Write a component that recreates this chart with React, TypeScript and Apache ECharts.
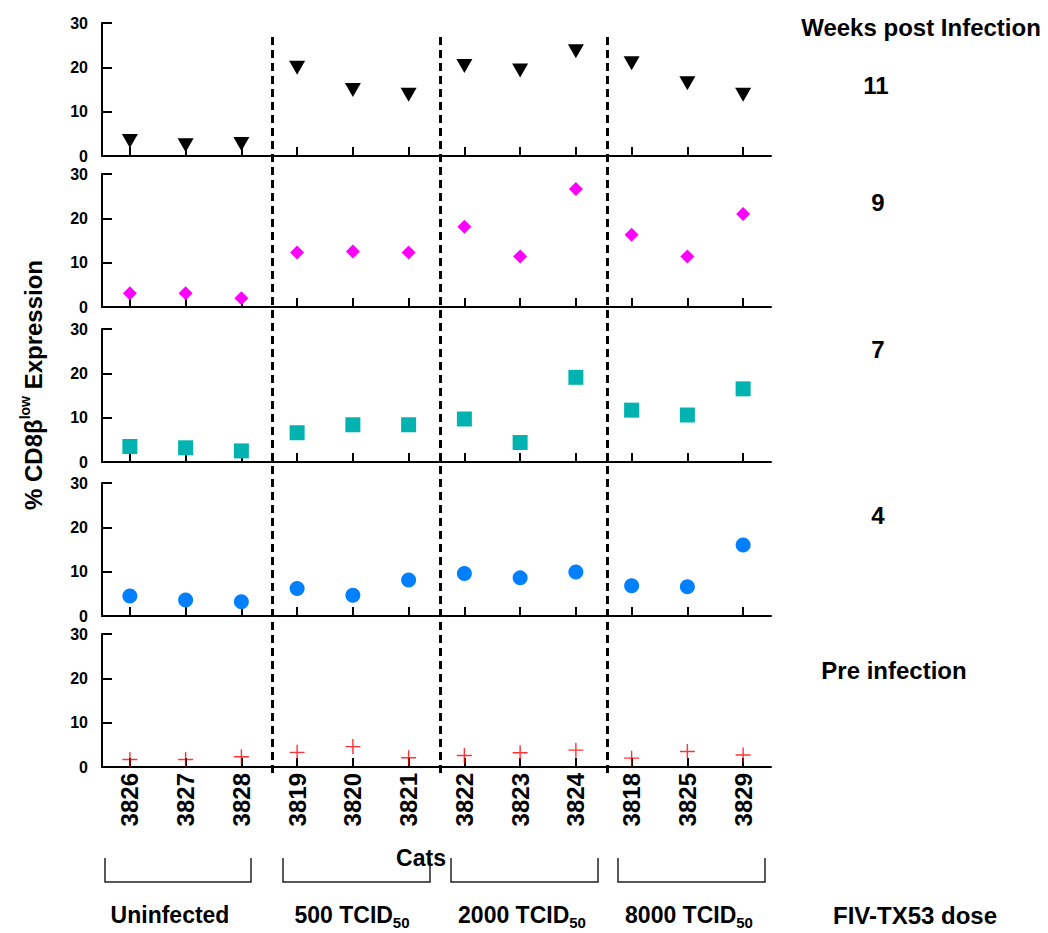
import React, { useEffect, useRef } from "react";
import * as echarts from "echarts";

// Cat IDs in plotting order, grouped by infection dose
const cats = ["3826", "3827", "3828", "3819", "3820", "3821", "3822", "3823", "3824", "3818", "3825", "3829"];

// % CD8β-low expression per cat at each time point
const week11 = [3.4, 2.4, 2.7, 19.9, 14.9, 13.8, 20.3, 19.3, 23.6, 20.9, 16.4, 13.8];
const week9 = [3.1, 3.1, 2.0, 12.3, 12.5, 12.3, 18.1, 11.4, 26.6, 16.3, 11.4, 21.0];
const week7 = [3.5, 3.2, 2.5, 6.6, 8.4, 8.4, 9.7, 4.4, 19.1, 11.7, 10.6, 16.5];
const week4 = [4.5, 3.6, 3.2, 6.2, 4.7, 8.1, 9.6, 8.6, 9.9, 6.8, 6.6, 16.0];
const preInfection = [1.7, 1.7, 2.3, 3.3, 4.6, 2.1, 2.6, 3.2, 3.8, 2.0, 3.5, 2.7];

const panelData = [week11, week9, week7, week4, preInfection];
const panelLabels = ["11", "9", "7", "4", "Pre infection"];

// Dose group boundaries along the cat axis (in category units)
const groupBoundaries = [3.05, 6.07, 9.07];
const doseGroups = ["Uninfected", "500", "2000", "8000"];

const FONT = "'Liberation Sans', Arial, Helvetica, sans-serif";

const panelTops = [23, 174, 329, 483, 634];
const PANEL_H = 133;
const GRID_LEFT = 102;
const GRID_W = 669;

const plus = "path://M0,5 L10,5 M5,0 L5,10";

const symbols = [
  { symbol: "triangle", symbolRotate: 180, symbolSize: [16, 14], color: "#000000" },
  { symbol: "diamond", symbolRotate: 0, symbolSize: [14, 14], color: "#ff00ff" },
  { symbol: "rect", symbolRotate: 0, symbolSize: [15, 15], color: "#00b2b0" },
  { symbol: "circle", symbolRotate: 0, symbolSize: [15, 15], color: "#0080ff" },
  { symbol: plus, symbolRotate: 0, symbolSize: [15, 15], color: "#ff0000" },
];

export default function App() {
  const ref = useRef<HTMLDivElement>(null);

  useEffect(() => {
    document.body.style.margin = "0";
    document.body.style.overflow = "hidden";
    const chart = echarts.init(ref.current!, null, { renderer: "svg" });

    const grids: any[] = panelTops.map((top) => ({
      left: GRID_LEFT,
      top,
      width: GRID_W,
      height: PANEL_H,
      containLabel: false,
    }));
    // overlay grid for the dashed group separators spanning all panels
    grids.push({ left: GRID_LEFT, top: 32, width: GRID_W, height: 741 });

    const axisLine = { show: true, lineStyle: { color: "#000", width: 2 } };

    const xAxes: any[] = panelTops.map((_, i) => ({
      type: "category",
      gridIndex: i,
      data: cats,
      boundaryGap: true,
      axisLine,
      axisTick: { show: true, inside: true, alignWithLabel: true, length: 9, lineStyle: { color: "#000", width: 2 } },
      axisLabel: {
        show: i === 4,
        rotate: 90,
        fontWeight: "bold",
        fontSize: 24,
        color: "#000",
        fontFamily: FONT,
        margin: 6,
      },
      splitLine: { show: false },
    }));
    xAxes.push({ type: "value", gridIndex: 5, min: 0, max: 12, show: false });

    const yAxes: any[] = panelTops.map((_, i) => ({
      type: "value",
      gridIndex: i,
      min: 0,
      max: 30,
      interval: 10,
      axisLine,
      axisTick: { show: true, inside: true, length: 10, lineStyle: { color: "#000", width: 2 } },
      axisLabel: { fontWeight: "bold", fontSize: 16, color: "#000", fontFamily: FONT, margin: 14 },
      splitLine: { show: false },
    }));
    yAxes.push({ type: "value", gridIndex: 5, min: 0, max: 1, show: false });

    const series: any[] = panelData.map((data, i) => {
      const s = symbols[i];
      const isPlus = i === 4;
      return {
        type: "scatter",
        xAxisIndex: i,
        yAxisIndex: i,
        data,
        symbol: s.symbol,
        symbolRotate: s.symbolRotate,
        symbolSize: s.symbolSize,
        itemStyle: isPlus
          ? { color: "rgba(0,0,0,0)", borderColor: s.color, borderWidth: 1.4 }
          : { color: s.color, opacity: 1 },
        emphasis: { disabled: true },
        z: 3,
      };
    });

    series.push({
      type: "scatter",
      xAxisIndex: 5,
      yAxisIndex: 5,
      data: [],
      markLine: {
        silent: true,
        symbol: "none",
        label: { show: false },
        lineStyle: { color: "#000", width: 3, type: [8, 5] },
        data: groupBoundaries.map((x) => ({ xAxis: x })),
      },
      z: 4,
    });

    const boldText = (text: string, x: number, y: number, fontSize = 22) => ({
      type: "text",
      x,
      y,
      style: {
        text,
        fill: "#000",
        font: `bold ${fontSize}px ${FONT}`,
        align: "center",
        verticalAlign: "middle",
      },
    });

    const labelY = [85, 202, 349, 515, 670];
    const labelX = [876, 878, 878, 878, 894];

    const brackets = [
      [105, 251],
      [283, 430],
      [451, 598],
      [618, 765],
    ];
    const doseX = [170, 352, 522, 689];

    const doseText = (name: string, x: number) => {
      const hasSub = name !== "Uninfected";
      return {
        type: "text",
        x,
        y: 915,
        style: {
          text: hasSub ? `{m|${name} TCID}{s|50}` : `{m|${name}}`,
          align: "center",
          verticalAlign: "middle",
          rich: {
            m: { fontSize: 23, fontWeight: "bold", fontFamily: FONT, fill: "#000", lineHeight: 30, verticalAlign: "middle" },
            s: { fontSize: 15, fontWeight: "bold", fontFamily: FONT, fill: "#000", lineHeight: 30, verticalAlign: "bottom", padding: [16, 0, 0, 0] },
          },
        },
      };
    };

    const graphic: any[] = [
      boldText("Weeks post Infection", 921, 27, 24),
      ...panelLabels.map((t, i) => boldText(t, labelX[i], labelY[i], 24)),
      ...brackets.map(([a, b]) => ({
        type: "polyline",
        shape: { points: [[a, 858], [a, 882], [b, 882], [b, 858]] },
        style: { stroke: "#222", lineWidth: 1.5, fill: null },
      })),
      boldText("Cats", 421, 858, 23),
      ...doseGroups.map((g, i) => doseText(g, doseX[i])),
      boldText("FIV-TX53 dose", 915, 915, 24),
      {
        type: "text",
        x: 33,
        y: 385,
        rotation: Math.PI / 2,
        style: {
          text: "{m|% CD8β}{s|low}{m| Expression}",
          align: "center",
          verticalAlign: "middle",
          rich: {
            m: { fontSize: 24, fontWeight: "bold", fontFamily: FONT, fill: "#000", lineHeight: 30, verticalAlign: "middle" },
            s: { fontSize: 14, fontWeight: "bold", fontFamily: FONT, fill: "#000", lineHeight: 30, verticalAlign: "top", padding: [0, 0, 10, 0] },
          },
        },
      },
    ];

    chart.setOption({
      animation: false,
      backgroundColor: "#ffffff",
      grid: grids,
      xAxis: xAxes,
      yAxis: yAxes,
      series,
      graphic,
    });

    return () => chart.dispose();
  }, []);

  return <div ref={ref} style={{ width: 1048, height: 933 }} />;
}
